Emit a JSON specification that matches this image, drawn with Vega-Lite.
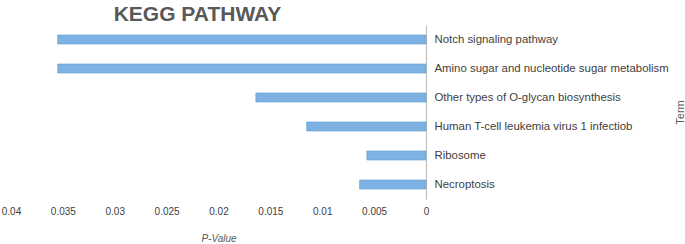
{
  "$schema": "https://vega.github.io/schema/vega-lite/v6.json",
  "width": 415,
  "height": 174,
  "autosize": {"type": "none"},
  "padding": {"left": 11, "top": 25, "right": 259, "bottom": 45},
  "background": "white",
  "title": {
    "text": "KEGG PATHWAY",
    "fontSize": 21,
    "fontWeight": "bold",
    "font": "Liberation Sans",
    "color": "#595959",
    "anchor": "middle",
    "dx": -21,
    "offset": 0
  },
  "data": {
    "values": [
      {"Term": "Notch signaling pathway", "PValue": 0.0355},
      {"Term": "Amino sugar and nucleotide sugar metabolism", "PValue": 0.0355},
      {"Term": "Other types of O-glycan biosynthesis", "PValue": 0.0164},
      {"Term": "Human T-cell leukemia virus 1 infectiob", "PValue": 0.0115},
      {"Term": "Ribosome", "PValue": 0.0057},
      {"Term": "Necroptosis", "PValue": 0.0064}
    ]
  },
  "mark": {"type": "bar", "size": 9, "fill": "#7db2e3", "stroke": "#5b9bd5", "strokeWidth": 0.6},
  "encoding": {
    "y": {
      "field": "Term",
      "type": "nominal",
      "sort": null,
      "scale": {"paddingInner": 0, "paddingOuter": 0},
      "axis": {
        "orient": "right",
        "title": "Term",
        "titleAngle": -90,
        "titleX": 254,
        "titleY": 87,
        "titleAlign": "center",
        "titleBaseline": "middle",
        "titleFont": "Liberation Sans",
        "titleFontSize": 11,
        "titleFontWeight": "normal",
        "titleColor": "#595959",
        "labelFont": "Liberation Sans",
        "labelFontSize": 11.4,
        "labelColor": "#404040",
        "labelPadding": 8,
        "labelLimit": 0,
        "ticks": false,
        "domainColor": "#bfbfbf",
        "domainWidth": 1.2,
        "grid": false
      }
    },
    "x": {
      "field": "PValue",
      "type": "quantitative",
      "scale": {"domain": [0, 0.04], "reverse": true, "nice": false, "zero": true},
      "axis": {
        "values": [0, 0.005, 0.01, 0.015, 0.02, 0.025, 0.03, 0.035, 0.04],
        "format": "~g",
        "title": "P-Value",
        "titleFont": "Liberation Sans",
        "titleFontSize": 10,
        "titleFontStyle": "italic",
        "titleFontWeight": "normal",
        "titleColor": "#595959",
        "titlePadding": 17,
        "labelFont": "Liberation Sans",
        "labelFontSize": 10,
        "labelColor": "#404040",
        "labelPadding": 7,
        "labelFlush": false,
        "domain": false,
        "ticks": false,
        "grid": false
      }
    }
  },
  "config": {"view": {"stroke": null}}
}
